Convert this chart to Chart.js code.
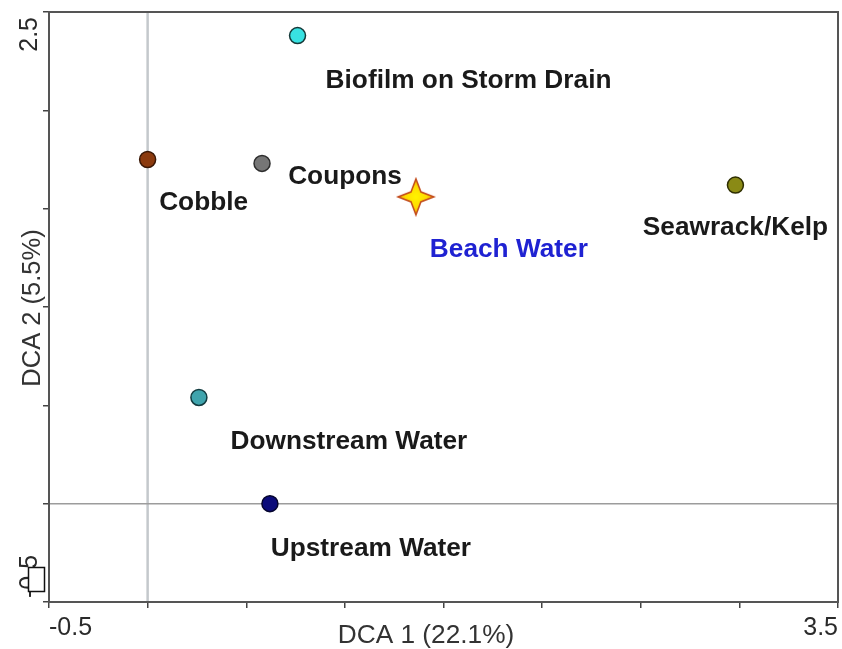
<!DOCTYPE html>
<html>
<head>
<meta charset="utf-8">
<script src="https://cdn.jsdelivr.net/npm/chart.js@4/dist/chart.umd.min.js"></script>
<style>
html,body{margin:0;padding:0;background:#fff;overflow:hidden;}
canvas{display:block;}
</style>
</head>
<body>
<canvas id="dca" width="842" height="649"></canvas>
<script>
// DCA site scores
var sites = ["Biofilm on Storm Drain", "Cobble", "Coupons", "Beach Water", "Seawrack/Kelp", "Downstream Water", "Upstream Water"];
var dca1 = [0.76, 0.0, 0.58, 1.36, 2.98, 0.26, 0.62];
var dca2 = [2.38, 1.75, 1.73, 1.56, 1.62, 0.54, 0.0];

var xTickLabels = ["-0.5", "3.5"];
var yTickLabels = ["-0.5", "2.5"];
var axisTitles = ["DCA 1 (22.1%)", "DCA 2 (5.5%)"];

// marker look
var fillColors = ["#38e2e2", "#8b3a0e", "#767676", "#ffe600", "#8a8a15", "#3fa4ad", "#0b0b7a"];
var edgeColors = ["#163838", "#3a1806", "#2e2e2e", "#d04a00", "#2e2e00", "#133c40", "#05052e"];
var textColors = ["#1a1a1a", "#1a1a1a", "#1a1a1a", "#1f22d2", "#1a1a1a", "#1a1a1a", "#1a1a1a"];
// label anchor (centre, baseline) relative to its marker, px
var labelShift = [[171, 52], [56, 50], [83, 21], [93, 60], [0, 50], [150, 52], [101, 52]];

// four pointed star for the beach water sample
function makeStar(){
  var c = document.createElement("canvas");
  c.width = 40; c.height = 40;
  var g = c.getContext("2d");
  var cx = 20, cy = 20, R = 18, r = 7;
  g.beginPath();
  for (var k = 0; k < 8; k++) {
    var ang = -Math.PI / 2 + k * Math.PI / 4;
    var rad = (k % 2 == 0) ? R : r;
    var px = cx + rad * Math.cos(ang), py = cy + rad * Math.sin(ang);
    if (k == 0) g.moveTo(px, py); else g.lineTo(px, py);
  }
  g.closePath();
  var grad = g.createRadialGradient(cx, cy, 1, cx, cy, R);
  grad.addColorStop(0, "#fff200");
  grad.addColorStop(0.55, "#ffdc00");
  grad.addColorStop(1, "#f2a800");
  g.fillStyle = grad;
  g.fill();
  g.lineWidth = 1.5;
  g.strokeStyle = "#c24a1a";
  g.stroke();
  return c;
}
var star = makeStar();

var pts = sites.map(function(s, i){ return {x: dca1[i], y: dca2[i]}; });
var styles = sites.map(function(s, i){ return s == "Beach Water" ? star : "circle"; });

function wideText(ctx, txt, x, y, sx, rot){
  ctx.save();
  ctx.translate(x, y);
  if (rot) ctx.rotate(rot);
  ctx.scale(sx, 1);
  ctx.fillText(txt, 0, 0);
  ctx.restore();
}

var decor = {
  id: "decor",
  beforeDatasetsDraw: function(chart){
    var ctx = chart.ctx, a = chart.chartArea;
    var x0 = chart.scales.x.getPixelForValue(0);
    var y0 = chart.scales.y.getPixelForValue(0);
    ctx.save();
    ctx.strokeStyle = "#c4c8cc"; ctx.lineWidth = 2.5;
    ctx.beginPath(); ctx.moveTo(x0, a.top); ctx.lineTo(x0, a.bottom); ctx.stroke();
    ctx.strokeStyle = "#9c9c9c"; ctx.lineWidth = 1.5;
    ctx.beginPath(); ctx.moveTo(a.left, y0); ctx.lineTo(a.right, y0); ctx.stroke();
    ctx.strokeStyle = "#555"; ctx.lineWidth = 2;
    ctx.strokeRect(a.left, a.top, a.right - a.left, a.bottom - a.top);
    ctx.restore();
  },
  afterDatasetsDraw: function(chart){
    var ctx = chart.ctx;
    var meta = chart.getDatasetMeta(0);
    ctx.save();
    ctx.font = "bold 25px 'Liberation Sans', Arial, sans-serif";
    ctx.textAlign = "center";
    ctx.textBaseline = "alphabetic";
    meta.data.forEach(function(el, i){
      ctx.fillStyle = textColors[i];
      wideText(ctx, sites[i], el.x + labelShift[i][0], el.y + labelShift[i][1], 1.05);
    });
    ctx.restore();
  },
  afterDraw: function(chart){
    var ctx = chart.ctx, a = chart.chartArea;
    var xs = chart.scales.x, ys = chart.scales.y;
    ctx.save();
    ctx.font = "25px 'Liberation Sans', Arial, sans-serif";
    ctx.fillStyle = "#2a2a2a";
    ctx.textBaseline = "alphabetic";
    // x tick labels
    ctx.textAlign = "left";
    ctx.fillText(xTickLabels[0], xs.getPixelForValue(parseFloat(xTickLabels[0])), 635);
    ctx.textAlign = "right";
    ctx.fillText(xTickLabels[1], xs.getPixelForValue(parseFloat(xTickLabels[1])), 635);
    // y tick labels, rotated
    ctx.textAlign = "left";
    wideText(ctx, yTickLabels[0], 37, ys.getPixelForValue(parseFloat(yTickLabels[0])) - 4, 1, -Math.PI / 2);
    ctx.textAlign = "right";
    wideText(ctx, yTickLabels[1], 37, ys.getPixelForValue(parseFloat(yTickLabels[1])) + 5, 1, -Math.PI / 2);
    // axis titles
    ctx.fillStyle = "#333";
    ctx.textAlign = "center";
    wideText(ctx, axisTitles[0], 426, 643, 1.05);
    wideText(ctx, axisTitles[1], 40, 308, 1.02, -Math.PI / 2);
    // little box left on the y axis
    ctx.fillStyle = "#fff";
    ctx.fillRect(28.5, 567.5, 16, 24);
    ctx.strokeStyle = "#111"; ctx.lineWidth = 1.5;
    ctx.strokeRect(28.5, 567.5, 16, 24);
    ctx.restore();
  }
};

new Chart("dca", {
  type: "scatter",
  data: {
    datasets: [{
      data: pts,
      pointStyle: styles,
      pointRadius: 8,
      pointHoverRadius: 8,
      pointBorderWidth: 1.5,
      pointBackgroundColor: fillColors,
      pointBorderColor: edgeColors
    }]
  },
  options: {
    responsive: false,
    animation: false,
    layout: {autoPadding: false, padding: {top: 12, right: 4, left: 0, bottom: 0}},
    plugins: {legend: {display: false}, tooltip: {enabled: false}},
    scales: {
      x: {
        type: "linear",
        min: parseFloat(xTickLabels[0]),
        max: parseFloat(xTickLabels[1]),
        ticks: {stepSize: 0.5, display: false},
        grid: {drawOnChartArea: false, drawTicks: true, tickLength: 6, color: "#444", lineWidth: 1.5},
        border: {display: false},
        afterFit: function(s){ s.height = 47; }
      },
      y: {
        type: "linear",
        min: parseFloat(yTickLabels[0]),
        max: parseFloat(yTickLabels[1]),
        ticks: {stepSize: 0.5, display: false},
        grid: {drawOnChartArea: false, drawTicks: true, tickLength: 6, color: "#444", lineWidth: 1.5},
        border: {display: false},
        afterFit: function(s){ s.width = 49; }
      }
    }
  },
  plugins: [decor]
});
</script>
</body>
</html>
